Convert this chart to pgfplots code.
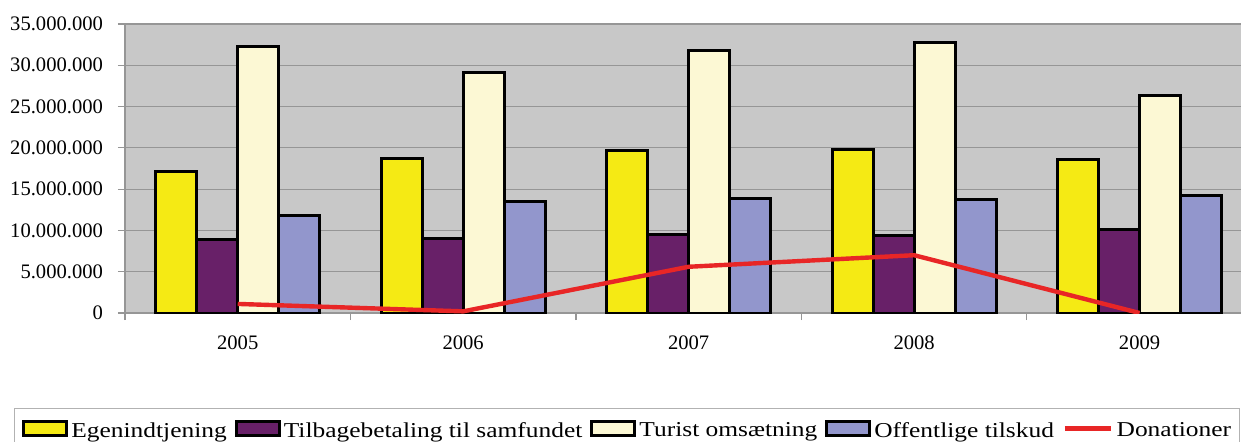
\documentclass[border=0pt]{standalone}
\usepackage{pgfplots}
\pgfplotsset{compat=1.18}
\usepackage{fontspec}
\setmainfont{Liberation Serif}
\newfontfamily\legfont[FakeStretch=1.2]{Liberation Serif}
\definecolor{cYel}{RGB}{245,234,20}
\definecolor{cPur}{RGB}{104,32,104}
\definecolor{cCrm}{RGB}{252,248,212}
\definecolor{cLav}{RGB}{146,150,204}
\definecolor{cRed}{RGB}{232,38,38}
\definecolor{cBg}{RGB}{200,200,200}
\definecolor{cGrid}{RGB}{150,150,150}
\begin{document}
\begin{tikzpicture}
\begin{axis}[
    scale only axis,
    width=558pt, height=144.5pt,
    xmin=-0.5, xmax=4.45,
    ymin=0, ymax=35000000,
    ytick={0,5000000,10000000,15000000,20000000,25000000,30000000,35000000},
    scaled y ticks=false,
    yticklabel style={xshift=-4pt, /pgf/number format/fixed, /pgf/number format/precision=0,
        /pgf/number format/1000 sep={.}, /pgf/number format/assume math mode=true},
    tick label style={font=\fontsize{10.3}{12}\selectfont},
    xtick={0,1,2,3,4},
    xticklabels={2005,2006,2007,2008,2009},
    xticklabel style={yshift=-4.5pt},
    minor xtick={-0.5,0.5,1.5,2.5,3.5},
    major x tick style={draw=none},
    tick style={draw=cGrid, line width=0.6pt},
    major tick length=3.5pt, minor tick length=3.5pt,
    tick align=outside,
    axis x line*=bottom, axis y line*=left,
    axis line style={draw=cGrid, line width=0.6pt, -},
    ymajorgrids,
    major grid style={draw=cGrid, line width=0.6pt},
    axis background/.style={fill=cBg},
    legend columns=5,
    legend style={at={(-0.0995,-0.3287)}, anchor=north west,
        draw=gray!60, fill=white, inner xsep=4pt, inner ysep=5.8pt,
        font=\legfont\fontsize{10.6}{12}\selectfont,
        nodes={inner sep=0pt},
        /tikz/every odd column/.append style={column sep=1.5pt},
        /tikz/every even column/.append style={column sep=4pt}},
    legend cell align=left,
]
\addplot[ybar, bar width=0.182, bar shift=-0.273, fill=cYel, draw=black, line width=1.5pt,
    legend image code/.code={\draw[fill=cYel, draw=black, line width=1.5pt] (0pt,-2.1pt) rectangle (21.5pt,4.9pt);}]
    coordinates {(0,17100000) (1,18700000) (2,19650000) (3,19800000) (4,18600000)};
\addlegendentry{Egenindtjening}
\addplot[ybar, bar width=0.182, bar shift=-0.091, fill=cPur, draw=black, line width=1.5pt,
    legend image code/.code={\draw[fill=cPur, draw=black, line width=1.5pt] (0pt,-2.1pt) rectangle (21.5pt,4.9pt);}]
    coordinates {(0,8850000) (1,9000000) (2,9550000) (3,9400000) (4,10100000)};
\addlegendentry{Tilbagebetaling til samfundet}
\addplot[ybar, bar width=0.182, bar shift=0.091, fill=cCrm, draw=black, line width=1.5pt,
    legend image code/.code={\draw[fill=cCrm, draw=black, line width=1.5pt] (0pt,-2.1pt) rectangle (21.5pt,4.9pt);}]
    coordinates {(0,32250000) (1,29150000) (2,31800000) (3,32700000) (4,26400000)};
\addlegendentry{Turist omsætning}
\addplot[ybar, bar width=0.182, bar shift=0.273, fill=cLav, draw=black, line width=1.5pt,
    legend image code/.code={\draw[fill=cLav, draw=black, line width=1.5pt] (0pt,-2.1pt) rectangle (21.5pt,4.9pt);}]
    coordinates {(0,11800000) (1,13500000) (2,13900000) (3,13800000) (4,14200000)};
\addlegendentry{Offentlige tilskud}
\addplot[sharp plot, draw=cRed, line width=2.2pt, mark=none,
    legend image code/.code={\draw[draw=cRed, line width=2.8pt] (0pt,1.4pt) -- (23pt,1.4pt);}]
    coordinates {(0,1100000) (1,200000) (2,5600000) (3,7000000) (4,0)};
\addlegendentry{Donationer}
\end{axis}
\pgfresetboundingbox
\path[use as bounding box] (-62.5pt,-64pt) rectangle (558pt,156.5pt);
\end{tikzpicture}
\end{document}
